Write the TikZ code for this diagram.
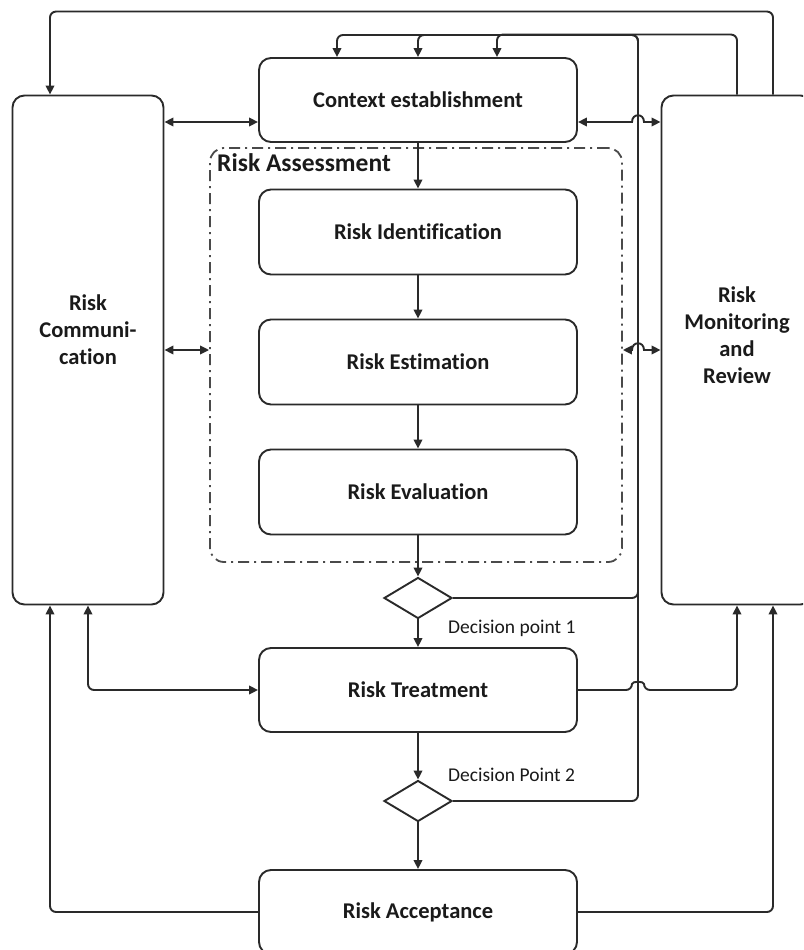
\documentclass[tikz,border=0pt]{standalone}
\usepackage{fontspec}
\setmainfont{Carlito}[Ligatures=NoCommon]
\usetikzlibrary{arrows.meta, shapes.geometric, calc}
\definecolor{ink}{HTML}{2A2A2A}
\definecolor{inkl}{HTML}{4A4A4A}
\definecolor{txt}{HTML}{1A1A1A}
\tikzset{
  blk/.style={draw=ink, line width=1.9pt, rounded corners=12pt, minimum width=318pt, minimum height=84pt, text=txt, font=\bfseries\fontsize{22.5}{27}\selectfont, align=center},
  side/.style={blk, minimum width=151pt, minimum height=509pt},
  txtonly/.style={text=txt, font=\bfseries\fontsize{22.5}{27}\selectfont, align=center},
  dec/.style={diamond, draw=ink, line width=1.9pt, minimum width=68pt, minimum height=41pt, inner sep=0pt},
  declab/.style={text=txt, font=\fontsize{19.5}{22}\selectfont, anchor=west, inner sep=0pt},
  ln/.style={draw=ink, line width=1.9pt, rounded corners=6pt},
  arr/.style={ln, -{Triangle[length=9pt,width=8.5pt]}},
  darr/.style={ln, {Triangle[length=9pt,width=8.5pt]}-{Triangle[length=9pt,width=8.5pt]}}
}
\begin{document}
\begin{tikzpicture}[x=1pt, y=-1pt]
  \clip (0,0) rectangle (803,950);
  \fill[white] (0,0) rectangle (803,950);
  \node[draw=inkl, line width=1.8pt, dash pattern=on 11pt off 5pt on 2pt off 5pt, rounded corners=14pt, minimum width=412pt, minimum height=414pt] (assess) at (416,355) {};
  \node[txtonly, font=\bfseries\fontsize{25.5}{30}\selectfont, anchor=north west, inner sep=0pt] (assesstxt) at (217,153) {Risk Assessment};
  \node[blk] (ctx) at (418,100) {Context establishment};
  \node[blk, minimum height=85pt] (ident) at (418,232) {Risk Identification};
  \node[blk, minimum height=85pt] (estim) at (418,362) {Risk Estimation};
  \node[blk, minimum height=85pt] (evalu) at (418,492) {Risk Evaluation};
  \node[dec] (dec1) at (418,598) {};
  \node[blk] (treat) at (418,690) {Risk Treatment};
  \node[dec] (dec2) at (418,801) {};
  \node[blk] (accept) at (418,912) {Risk Acceptance};
  \node[side] (comm) at (88,350) {};
  \node[side] (monit) at (737,350) {};
  \node[txtonly] (commtxt) at (88,330) {Risk\\Communi-\\cation};
  \node[txtonly] (monittxt) at (737,335) {Risk\\Monitoring\\and\\Review};
  \node[declab] (dp1) at (448,628) {Decision point 1};
  \node[declab] (dp2) at (448,775) {Decision Point 2};
  \coordinate (loop) at (638,35);
  \coordinate (c1) at ([yshift=-22pt]ctx.west);
  \coordinate (c2) at ([yshift=-22pt]ctx.east);
  \coordinate (a1) at ([yshift=5pt]assess.west);
  \coordinate (a2) at ([yshift=5pt]assess.east);
  \draw[arr] (ctx.south) -- (ident.north);
  \draw[arr] (ident.south) -- (estim.north);
  \draw[arr] (estim.south) -- (evalu.north);
  \draw[arr] (evalu.south) -- (dec1.north);
  \draw[arr] (dec1.south) -- (treat.north);
  \draw[arr] (treat.south) -- (dec2.north);
  \draw[arr] (dec2.south) -- (accept.north);
  \draw[arr] (dec1.east) -| (loop) -| (ctx.north);
  \draw[arr] (dec2.east) -| (loop) -| ([xshift=-81pt]ctx.north);
  \draw[arr] (monit.north) -- ++(0,-60) -| ([xshift=79pt]ctx.north);
  \draw[arr] ([xshift=36pt]monit.north) -- ++(0,-83) -| ([xshift=-38pt]comm.north);
  \draw[darr] (comm.east |- c1) -- (c1);
  \draw[darr, sharp corners] (c2) -- (632,122) .. controls (632,113) and (644,113) .. (644,122) -- (c2 -| monit.west);
  \draw[darr] (comm.east |- a1) -- (a1);
  \draw[darr, sharp corners] (a2) -- (632,350) .. controls (632,341) and (644,341) .. (644,350) -- (a2 -| monit.west);
  \draw[darr] (comm.south) |- (treat.west);
  \draw[arr] (treat.east) -- (632,690) .. controls (632,681) and (644,681) .. (644,690) -| (monit.south);
  \draw[arr] (accept.west) -| ([xshift=-38pt]comm.south);
  \draw[arr] (accept.east) -| ([xshift=36pt]monit.south);
\end{tikzpicture}
\end{document}
